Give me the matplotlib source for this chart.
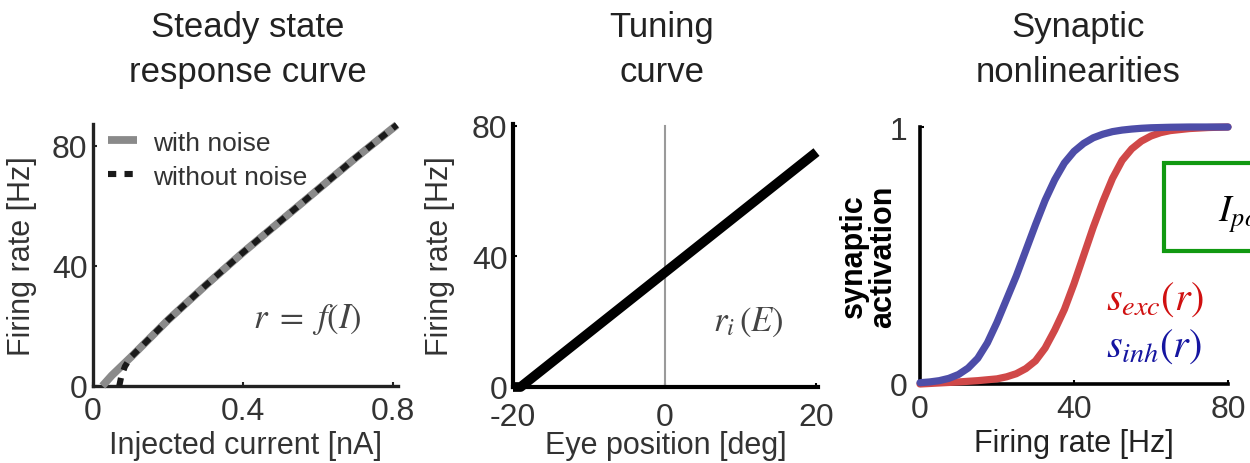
import matplotlib
matplotlib.use("Agg")
import matplotlib.pyplot as plt
from matplotlib.lines import Line2D
from matplotlib.patches import Rectangle

plt.rcParams['font.family'] = ['Liberation Sans', 'DejaVu Sans']
plt.rcParams['mathtext.fontset'] = 'stix'
plt.rcParams['axes.unicode_minus'] = False

# ---- data ----
# steady-state f-I curve
current_noise = [0.025, 0.05, 0.1, 0.2, 0.3, 0.4, 0.5, 0.6, 0.7, 0.81]
rate_noise = [0.0, 3.5, 9.5, 22.0, 33.5, 44.5, 55.0, 65.5, 76.0, 87.0]
current_clean = [0.07, 0.075, 0.085, 0.1, 0.2, 0.3, 0.4, 0.5, 0.6, 0.7, 0.81]
rate_clean = [0.0, 3.0, 6.5, 9.5, 22.0, 33.5, 44.5, 55.0, 65.5, 76.0, 87.0]

# tuning curve
eye_pos = [-20.0, -19.0, 20.0]
tuning_rate = [0.0, 0.0, 72.0]

# synaptic activation vs firing rate
rate_inh = [0, 2.5, 5, 7.5, 10, 12.5, 15, 17.5, 20, 22.5, 25, 27.5, 30, 32.5, 35,
            37.5, 40, 42.5, 45, 47.5, 50, 52.5, 55, 57.5, 60, 65, 70, 75, 80]
s_inh = [0.005, 0.008, 0.013, 0.022, 0.037, 0.062, 0.10, 0.16, 0.24, 0.33, 0.42,
         0.52, 0.62, 0.715, 0.795, 0.86, 0.905, 0.936, 0.958, 0.972, 0.982, 0.988,
         0.992, 0.995, 0.997, 0.999, 1.0, 1.0, 1.0]
rate_exc = [0, 5, 10, 15, 20, 22.5, 25, 27.5, 30, 32.5, 35, 37.5, 40, 42.5, 45,
            47.5, 50, 52.5, 55, 57.5, 60, 62.5, 65, 70, 75, 80]
s_exc = [0.0, 0.004, 0.008, 0.013, 0.02, 0.028, 0.04, 0.06, 0.09, 0.14, 0.21,
         0.29, 0.39, 0.50, 0.61, 0.71, 0.80, 0.87, 0.915, 0.945, 0.965, 0.978,
         0.986, 0.994, 0.998, 1.0]

W, H = 1250, 464
fig = plt.figure(figsize=(W / 100, H / 100), dpi=100)


def box(x0, y_bottom, x1, y_top):
    return [x0 / W, (H - y_bottom) / H, (x1 - x0) / W, (y_bottom - y_top) / H]


def fx(x):
    return x / W


def fy(y):
    return (H - y) / H


TICK = 23
LAB = 22
TXT = '#333333'


def style(ax, lw, color):
    for s in ['top', 'right']:
        ax.spines[s].set_visible(False)
    for s in ['left', 'bottom']:
        ax.spines[s].set_linewidth(lw)
        ax.spines[s].set_color(color)
        ax.spines[s].set_capstyle('projecting')
    ax.tick_params(direction='in', length=3, width=1.5, colors=color,
                   labelsize=TICK, labelcolor=TXT)
    ax.tick_params(axis='x', pad=7)
    ax.tick_params(axis='y', pad=4)


# ---- panel 1: steady state response curve ----
ax1 = fig.add_axes(box(93, 387, 398, 125))
ax1.plot(current_noise, rate_noise, color='#8a8a8a', lw=5.6,
         solid_capstyle='butt', clip_on=False, zorder=3)
ax1.plot(current_clean, rate_clean, color='#1a1a1a', lw=4.4,
         linestyle=(0, (1.35, 1.35)), dash_capstyle='butt', clip_on=False, zorder=4)
ax1.set_xlim(0, 0.813)
ax1.set_ylim(0, 87.3)
ax1.set_xticks([0, 0.4, 0.8])
ax1.set_xticklabels(['0', '0.4', '0.8'])
ax1.set_yticks([0, 40, 80])
style(ax1, 2.4, '#222222')
ax1.set_xlabel('Injected current [nA]', fontsize=LAB, color=TXT, labelpad=3)
ax1.set_ylabel('Firing rate [Hz]', fontsize=LAB, color=TXT)
ax1.yaxis.set_label_coords(-0.184, 0.50)
handles = [Line2D([], [], color='#8a8a8a', lw=5.6, solid_capstyle='butt'),
           Line2D([], [], color='#1a1a1a', lw=4.4, linestyle=(0, (1.35, 1.35)),
                  dash_capstyle='butt')]
leg = ax1.legend(handles, ['with noise', 'without noise'], loc='upper left',
                 bbox_to_anchor=(0.05, 0.975), frameon=False, fontsize=19,
                 handlelength=1.1, handletextpad=0.6, labelspacing=0.38,
                 borderpad=0, borderaxespad=0)
for t in leg.get_texts():
    t.set_color(TXT)
fig.text(fx(307), fy(320), r'$r\ =\ f(I)$', fontsize=25,
         color='#444444', ha='center', va='center')

# ---- panel 2: tuning curve ----
ax2 = fig.add_axes(box(513, 388, 818, 125))
ax2.plot([0, 0], [0, 80], color='#9a9a9a', lw=1.5, zorder=2)
ax2.plot(eye_pos, tuning_rate, color='black', lw=7, solid_capstyle='butt',
         clip_on=False, zorder=3)
ax2.set_xlim(-20, 20.2)
ax2.set_ylim(0, 80.6)
ax2.set_xticks([-20, 0, 20])
ax2.set_yticks([0, 40, 80])
style(ax2, 3.0, 'black')
ax2.tick_params(axis='x', pad=11)
ax2.set_xlabel('Eye position [deg]', fontsize=LAB, color=TXT, labelpad=-1.5)
ax2.set_ylabel('Firing rate [Hz]', fontsize=LAB, color=TXT)
ax2.yaxis.set_label_coords(-0.19, 0.50)
fig.text(fx(748), fy(322), r'$r_i\,(E)$', fontsize=25,
         color='#444444', ha='center', va='center')

# ---- panel 3: synaptic nonlinearities ----
ax3 = fig.add_axes(box(920, 385, 1228, 128))
ax3.plot(rate_exc, s_exc, color='#d04848', lw=5.2, solid_capstyle='round',
         clip_on=False, zorder=3)
ax3.plot(rate_inh, s_inh, color='#4d4da8', lw=5.2, solid_capstyle='round',
         clip_on=False, zorder=4)
ax3.set_xlim(0, 80)
ax3.set_ylim(0, 1)
ax3.set_xticks([0, 40, 80])
ax3.set_yticks([0, 1])
style(ax3, 2.6, 'black')
ax3.tick_params(axis='y', pad=9)
ax3.set_xlabel('Firing rate [Hz]', fontsize=LAB, color='#222222', labelpad=3)
ax3.set_ylabel('synaptic\nactivation', fontsize=22, fontweight='bold',
               color='black', linespacing=0.95)
ax3.yaxis.set_label_coords(-0.072, 0.50)
fig.text(fx(1106), fy(300), r'$s_{exc}(r)$', fontsize=29,
         color='#d01010', ha='left', va='center')
fig.text(fx(1106), fy(347), r'$s_{inh}(r)$', fontsize=29,
         color='#1515a0', ha='left', va='center')

# green input box on the right edge
fig.patches.append(Rectangle((fx(1164), fy(252)), 200 / W, 88 / H,
                             transform=fig.transFigure, fill=True,
                             facecolor='white', edgecolor='#119911', lw=3))
fig.text(fx(1218), fy(215), r'$I_{pos}$', fontsize=27, color='black',
         ha='left', va='center')

# ---- titles ----
TT = 25
titles = [(248, 'Steady state', 'response curve'),
          (662, 'Tuning', 'curve'),
          (1078, 'Synaptic', 'nonlinearities')]
for cx, l1, l2 in titles:
    fig.text(fx(cx), fy(37), l1, fontsize=TT, color='#222222',
             ha='center', va='baseline')
    fig.text(fx(cx), fy(82), l2, fontsize=TT, color='#222222',
             ha='center', va='baseline')

fig.savefig('out.png', dpi=100, facecolor='white')
